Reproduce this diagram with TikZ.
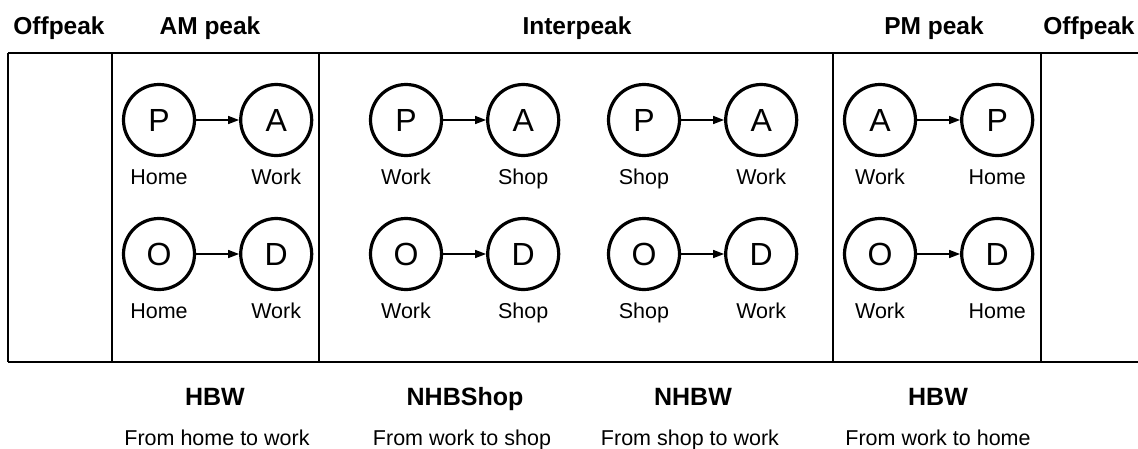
\documentclass[tikz,border=0pt]{standalone}
\usepackage{fontspec}
\setmainfont{Liberation Sans}
\usetikzlibrary{positioning,arrows.meta}

\begin{document}
\begin{tikzpicture}[
  x=1pt, y=-1pt,
  node distance=43pt,
  period/.style={font=\fontsize{24.5}{28}\selectfont\bfseries, anchor=base},
  purpose/.style={font=\fontsize{25}{28}\selectfont\bfseries, anchor=base},
  gloss/.style={font=\fontsize{21.5}{25}\selectfont, anchor=base},
  place/.style={circle, draw, line width=3.2pt, minimum size=71pt, inner sep=0pt,
    font=\fontsize{32}{36}\selectfont},
  tag/.style={font=\fontsize{21.5}{24}\selectfont, inner sep=0pt, text height=15.7pt},
  frame/.style={line width=1.6pt},
  flow/.style={-{Triangle[length=11pt,width=8pt]}, line width=1.4pt},
]
\useasboundingbox (0,0) rectangle (1138,448);

% Time periods
\node[period] (off-l) at (59,34) {Offpeak};
\node[period] (am) at (210,34) {AM peak};
\node[period] (ip) at (577,34) {Interpeak};
\node[period] (pm) at (934,34) {PM peak};
\node[period] (off-r) at (1089,34) {Offpeak};

% Timeline strip
\coordinate (tl) at (8,53);
\coordinate (tr) at (1138,53);
\coordinate (bl) at (8,362);
\coordinate (br) at (1138,362);
\draw[frame] (tl) -- (tr);
\draw[frame] (bl) -- (br);
\draw[frame] (tl) -- (bl);
\draw[frame] (112,53) -- (112,362);
\draw[frame] (319,53) -- (319,362);
\draw[frame] (833,53) -- (833,362);
\draw[frame] (1041,53) -- (1041,362);

% AM peak: home to work
\node[place] (am-p) at (159,120) {P};
\node[place, right=of am-p] (am-a) {A};
\node[place] (am-o) at (159,254) {O};
\node[place, right=of am-o] (am-d) {D};
\node[tag, below=11pt of am-p] {Home};
\node[tag, below=11pt of am-a] {Work};
\node[tag, below=11pt of am-o] {Home};
\node[tag, below=11pt of am-d] {Work};
\draw[flow] (am-p) -- (am-a);
\draw[flow] (am-o) -- (am-d);

% Interpeak: work to shop
\node[place] (ws-p) at (406,120) {P};
\node[place, right=of ws-p] (ws-a) {A};
\node[place] (ws-o) at (406,254) {O};
\node[place, right=of ws-o] (ws-d) {D};
\node[tag, below=11pt of ws-p] {Work};
\node[tag, below=11pt of ws-a] {Shop};
\node[tag, below=11pt of ws-o] {Work};
\node[tag, below=11pt of ws-d] {Shop};
\draw[flow] (ws-p) -- (ws-a);
\draw[flow] (ws-o) -- (ws-d);

% Interpeak: shop to work
\node[place] (sw-p) at (644,120) {P};
\node[place, right=of sw-p] (sw-a) {A};
\node[place] (sw-o) at (644,254) {O};
\node[place, right=of sw-o] (sw-d) {D};
\node[tag, below=11pt of sw-p] {Shop};
\node[tag, below=11pt of sw-a] {Work};
\node[tag, below=11pt of sw-o] {Shop};
\node[tag, below=11pt of sw-d] {Work};
\draw[flow] (sw-p) -- (sw-a);
\draw[flow] (sw-o) -- (sw-d);

% PM peak: work to home
\node[place] (pm-a) at (880,120) {A};
\node[place, right=of pm-a] (pm-p) {P};
\node[place] (pm-o) at (880,254) {O};
\node[place, right=of pm-o] (pm-d) {D};
\node[tag, below=11pt of pm-a] {Work};
\node[tag, below=11pt of pm-p] {Home};
\node[tag, below=11pt of pm-o] {Work};
\node[tag, below=11pt of pm-d] {Home};
\draw[flow] (pm-a) -- (pm-p);
\draw[flow] (pm-o) -- (pm-d);

% Trip purposes
\node[purpose] (hbw-am) at (215,405) {HBW};
\node[purpose] (nhbshop) at (465,405) {NHBShop};
\node[purpose] (nhbw) at (693,405) {NHBW};
\node[purpose] (hbw-pm) at (938,405) {HBW};
\node[gloss] at (217,445) {From home to work};
\node[gloss] at (462,445) {From work to shop};
\node[gloss] at (690,445) {From shop to work};
\node[gloss] at (938,445) {From work to home};
\end{tikzpicture}
\end{document}
